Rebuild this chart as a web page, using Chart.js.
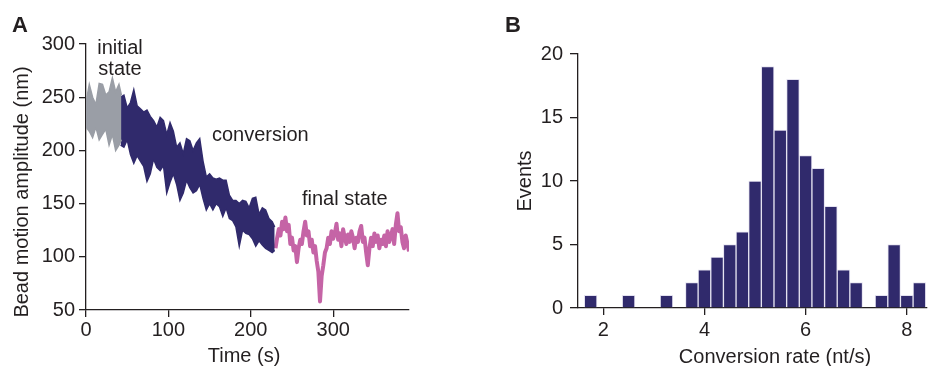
<!DOCTYPE html>
<html>
<head>
<meta charset="utf-8">
<script src="https://cdn.jsdelivr.net/npm/chart.js@4.4.1/dist/chart.umd.min.js"></script>
<style>
  html, body { margin: 0; padding: 0; background: #fff; }
  body { width: 932px; height: 366px; position: relative; overflow: hidden; }
  .panel { position: absolute; top: 0; height: 366px; }
  #panelA { left: 0; width: 420px; }
  #panelB { left: 500px; width: 432px; }
</style>
</head>
<body>
<div class="panel" id="panelA"><canvas id="traceChart"></canvas></div>
<div class="panel" id="panelB"><canvas id="rateChart"></canvas></div>
<script>
// Panel A: bead motion amplitude trace (envelopes)
const initialTime = [0, 4, 8, 12, 16, 20, 24, 28, 32, 36, 40, 43];
const initialHigh = [245, 262, 250, 243, 263, 262, 252, 255, 268, 255, 262, 252];
const initialLow = [222, 218, 212, 222, 210, 215, 220, 205, 215, 200, 205, 210];

const conversionTime = [42, 46, 50, 54, 58, 62, 66, 70, 74, 78, 82, 86, 90, 94, 98, 102,
  106, 110, 114, 118, 122, 126, 130, 134, 138, 142, 146, 150, 154, 158, 162, 166,
  170, 174, 178, 182, 186, 190, 194, 198, 202, 206, 210, 214, 218, 222, 226, 229];
const conversionHigh = [250, 252, 240, 245, 257, 242, 239, 236, 238, 232, 228, 222, 231, 228, 215, 226,
  218, 203, 207, 197, 211, 209, 200, 207, 211, 190, 175, 178, 174, 173, 174, 172,
  172, 158, 153, 153, 150, 153, 152, 146, 155, 156, 140, 146, 144, 136, 133, 128];
const conversionLow = [205, 203, 210, 196, 188, 195, 190, 185, 171, 178, 192, 184, 181, 186, 160, 170,
  178, 168, 153, 160, 172, 165, 160, 162, 168, 155, 144, 150, 144, 150, 147, 138,
  146, 136, 134, 128, 110, 125, 122, 121, 117, 110, 115, 111, 108, 106, 104, 106];

const finalTime = [230, 232, 234, 236, 238, 240, 242, 244, 246, 248, 250, 252, 254, 256, 258, 260,
  262, 264, 266, 268, 270, 272, 274, 276, 278, 280, 282, 284, 286, 288, 290, 292,
  294, 296, 298, 300, 302, 304, 306, 308, 310, 312, 314, 316, 318, 320, 322, 324,
  326, 328, 330, 332, 334, 336, 338, 340, 342, 344, 346, 348, 350, 352, 354, 356,
  358, 360, 362, 364, 366, 368, 370, 372, 374, 376, 378, 380, 382, 384, 386, 388, 390, 392];
const finalAmplitude = [108, 118, 126, 120, 133, 126, 137, 124, 130, 112, 118, 106, 110, 95, 108, 116,
  112, 124, 133, 120, 124, 110, 116, 104, 110, 96, 86, 58, 82, 92, 104, 108,
  118, 112, 124, 117, 122, 131, 116, 122, 110, 126, 118, 112, 121, 114, 124, 118,
  108, 118, 114, 124, 129, 114, 118, 104, 92, 108, 118, 110, 122, 114, 120, 108,
  116, 112, 120, 110, 124, 114, 119, 126, 112, 130, 141, 124, 128, 114, 108, 120, 113, 105];

const timeTicks = [0, 100, 200, 300];
const amplitudeTicks = [50, 100, 150, 200, 250, 300];

// Panel B: histogram of conversion rates
const rateBins = [1.75, 2, 2.25, 2.5, 2.75, 3, 3.25, 3.5, 3.75, 4, 4.25, 4.5, 4.75, 5,
  5.25, 5.5, 5.75, 6, 6.25, 6.5, 6.75, 7, 7.25, 7.5, 7.75, 8, 8.25];
const eventCounts = [1, 0, 0, 1, 0, 0, 1, 0, 2, 3, 4, 5, 6, 10,
  19, 14, 18, 12, 11, 8, 3, 2, 0, 1, 5, 1, 2];
const rateTicks = [2, 4, 6, 8];
const eventTicks = [0, 5, 10, 15, 20];

const ink = "#231f20";
const gray = "#9a9ea6";
const navy = "#302a6c";
const pink = "#c564a6";
const fontFamily = "'Liberation Sans', Arial, Helvetica, sans-serif";

Chart.defaults.font.family = fontFamily;
Chart.defaults.font.size = 20;
Chart.defaults.color = ink;

function toPoints(xs, ys) {
  return xs.map((x, i) => ({ x, y: ys[i] }));
}

function fixedTicks(values) {
  return (scale) => { scale.ticks = values.map((value) => ({ value })); };
}

function axis(extra) {
  return Object.assign({
    type: "linear",
    grid: { drawOnChartArea: false, drawTicks: true, tickLength: 7, color: ink, lineWidth: 1.3 },
    border: { display: true, color: ink, width: 1.3 },
    ticks: { autoSkip: false, maxRotation: 0 },
  }, extra);
}

// draws panel letters, annotations and axis titles as canvas text
function textLayer(items) {
  return {
    id: "textLayer",
    afterDraw(chart) {
      const ctx = chart.ctx;
      ctx.save();
      ctx.fillStyle = ink;
      ctx.textBaseline = "alphabetic";
      items.forEach((item) => {
        ctx.save();
        ctx.font = item.font || `20px ${fontFamily}`;
        ctx.textAlign = item.align || "left";
        ctx.translate(item.x, item.y);
        if (item.rotate) ctx.rotate(-Math.PI / 2);
        ctx.fillText(item.text, 0, 0);
        ctx.restore();
      });
      ctx.restore();
    },
  };
}

const band = (color) => ({
  borderColor: color,
  backgroundColor: color,
  borderWidth: 1.5,
  pointRadius: 0,
  tension: 0,
});

new Chart(document.getElementById("traceChart"), {
  type: "line",
  data: {
    datasets: [
      { ...band(gray), data: toPoints(initialTime, initialHigh), fill: "+1" },
      { ...band(gray), data: toPoints(initialTime, initialLow), fill: false },
      { ...band(navy), data: toPoints(conversionTime, conversionHigh), fill: "+1" },
      { ...band(navy), data: toPoints(conversionTime, conversionLow), fill: false },
      { ...band(pink), borderWidth: 4, borderJoinStyle: "round", data: toPoints(finalTime, finalAmplitude), fill: false },
    ],
  },
  options: {
    responsive: true,
    maintainAspectRatio: false,
    animation: false,
    layout: { padding: { top: 44, right: 11, left: 0, bottom: 0 } },
    plugins: { legend: { display: false }, tooltip: { enabled: false } },
    scales: {
      x: axis({
        min: 0, max: 392,
        afterBuildTicks: fixedTicks(timeTicks),
        ticks: { autoSkip: false, maxRotation: 0, padding: 1 },
        afterFit: (s) => { s.height = 56; },
      }),
      y: axis({
        min: 50, max: 300,
        afterBuildTicks: fixedTicks(amplitudeTicks),
        ticks: { autoSkip: false, padding: 4 },
        afterFit: (s) => { s.width = 86; },
      }),
    },
  },
  plugins: [textLayer([
    { text: "A", x: 12, y: 32, font: `bold 22px ${fontFamily}` },
    { text: "initial", x: 120, y: 54, align: "center" },
    { text: "state", x: 120, y: 75, align: "center" },
    { text: "conversion", x: 212, y: 141 },
    { text: "final state", x: 302, y: 205 },
    { text: "Time (s)", x: 244, y: 362, align: "center" },
    { text: "Bead motion amplitude (nm)", x: 28, y: 192, align: "center", rotate: true },
  ])],
});

new Chart(document.getElementById("rateChart"), {
  type: "bar",
  data: {
    datasets: [{
      data: toPoints(rateBins, eventCounts),
      backgroundColor: navy,
      borderColor: "#e4e2f0",
      borderWidth: 1,
      barPercentage: 1,
      categoryPercentage: 1,
    }],
  },
  options: {
    responsive: true,
    maintainAspectRatio: false,
    animation: false,
    layout: { padding: { top: 54, right: 5, left: 0, bottom: 0 } },
    plugins: { legend: { display: false }, tooltip: { enabled: false } },
    scales: {
      x: axis({
        min: 1.5, max: 8.4,
        offset: false,
        grid: { drawOnChartArea: false, drawTicks: true, offset: false, tickLength: 7, color: ink, lineWidth: 1.3 },
        afterBuildTicks: fixedTicks(rateTicks),
        ticks: { autoSkip: false, maxRotation: 0, padding: 3 },
        afterFit: (s) => { s.height = 58; },
      }),
      y: axis({
        min: 0, max: 20,
        grid: { drawOnChartArea: false, drawTicks: true, tickLength: 8, color: ink, lineWidth: 1.3 },
        afterBuildTicks: fixedTicks(eventTicks),
        ticks: { autoSkip: false, padding: 7 },
        afterFit: (s) => { s.width = 78; },
      }),
    },
  },
  plugins: [textLayer([
    { text: "B", x: 5, y: 32, font: `bold 22px ${fontFamily}` },
    { text: "Conversion rate (nt/s)", x: 275, y: 363, align: "center" },
    { text: "Events", x: 31, y: 181, align: "center", rotate: true },
  ])],
});
</script>
</body>
</html>
